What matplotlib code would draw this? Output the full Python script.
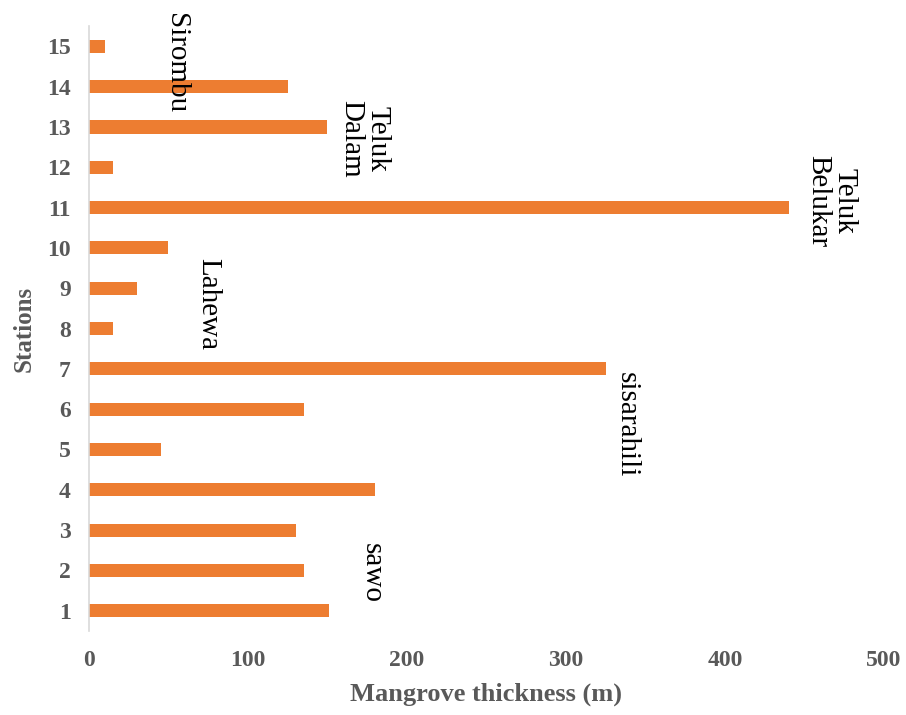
import matplotlib
matplotlib.use("Agg")
import matplotlib.pyplot as plt

# data
stations = list(range(1, 16))
thickness = [151, 135, 130, 180, 45, 135, 325, 15, 30, 50, 440, 15, 150, 125, 10]

# location names (label, x in data units, top of text in station units)
place_names = ["sawo", "sisarahili", "Lahewa", "Teluk\nBelukar", "Teluk\nDalam", "Sirombu"]
place_x = [178, 338, 75, 467, 173, 55]
place_top = [2.69, 6.92, 9.75, 12.3, 13.66, 15.82]

plt.rcParams['font.family'] = ['Liberation Serif', 'DejaVu Serif']

fig = plt.figure(figsize=(9.06, 7.15), dpi=100)
ax = fig.add_axes([0.0982, 0.1175, 0.8775, 0.8461])

ax.barh(stations, thickness, height=0.33, color='#ED7D31', zorder=2)

ax.set_xlim(0, 500)
ax.set_ylim(0.5, 15.5)
ax.set_xticks([0, 100, 200, 300, 400, 500])
ax.set_yticks(stations)

for s in ['top', 'right', 'bottom']:
    ax.spines[s].set_visible(False)
ax.spines['left'].set_color('#D9D9D9')
ax.spines['left'].set_linewidth(1.2)

ax.tick_params(axis='both', length=0, labelcolor='#595959', labelsize=17)
ax.tick_params(axis='y', pad=13)
ax.tick_params(axis='x', pad=14)
for lab in ax.get_xticklabels() + ax.get_yticklabels():
    lab.set_fontweight('bold')

ax.set_xlabel('Mangrove thickness (m)', fontsize=19, fontweight='bold',
              color='#595959', labelpad=8)
ax.set_ylabel('Stations', fontsize=18, fontweight='bold', color='#595959',
              labelpad=8)

for name, x, y in zip(place_names, place_x, place_top):
    ax.text(x, y, name, rotation=-90, ha='center', va='top', fontsize=21,
            color='black', linespacing=1.0, clip_on=False)

fig.savefig('out.png', dpi=100)
